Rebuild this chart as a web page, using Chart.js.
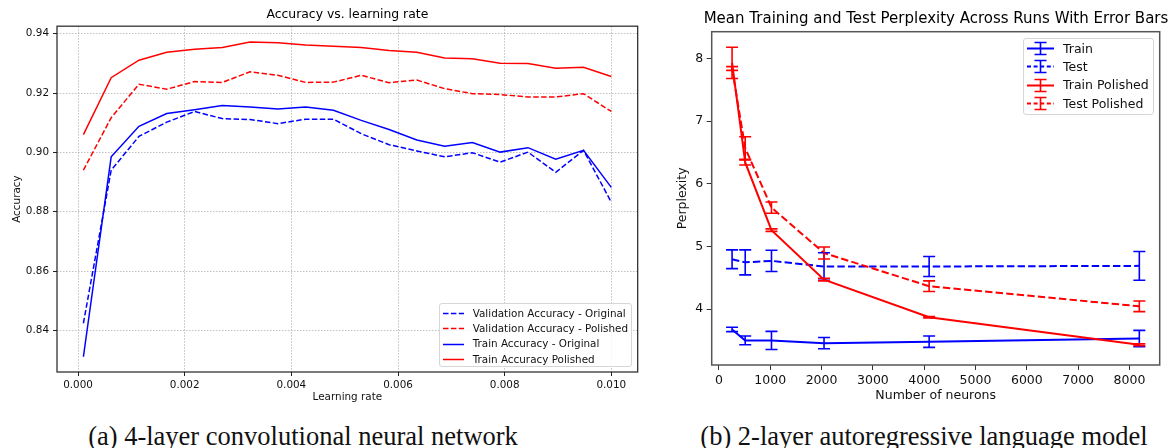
<!DOCTYPE html>
<html>
<head>
<meta charset="utf-8">
<script src="https://cdn.jsdelivr.net/npm/chart.js@4.4.0/dist/chart.umd.min.js"></script>
<style>
body { margin: 0; background: #fff; width: 1170px; height: 448px; position: relative; overflow: hidden; font-family: "DejaVu Sans"; }
canvas.chart { position: absolute; top: 0; }
#accChart { left: 0; width: 650px; height: 410px; }
#pplChart { left: 660px; width: 552px; height: 410px; }
.legend { position: absolute; background: rgba(255,255,255,0.8); border: 1px solid #d6d6d6; border-radius: 3px; box-sizing: border-box; color: #111; }
.legend .row { display: flex; align-items: center; white-space: nowrap; }
.legend canvas { display: block; }
.caption { position: absolute; width: 600px; text-align: center; font-family: "Liberation Serif"; font-size: 26.5px; line-height: 26px; color: #111; white-space: nowrap; }
</style>
</head>
<body>
<canvas class="chart" id="accChart" width="650" height="410"></canvas>
<canvas class="chart" id="pplChart" width="552" height="410"></canvas>
<div class="legend" id="accLegend" style="left:439px; top:303px; width:193px; height:64px; padding-top:1px;"></div>
<div class="legend" id="pplLegend" style="left:1023px; top:38px; width:131px; height:77px; padding-top:0px;"></div>
<div class="caption" style="left:3px; top:423px;">(a) 4-layer convolutional neural network</div>
<div class="caption" style="left:624px; top:423px;">(b) 2-layer autoregressive language model</div>
<script>
// (a) accuracy vs learning rate
const lrValues = [0.0001, 0.000621, 0.001142, 0.001663, 0.002184, 0.002705, 0.003226, 0.003747, 0.004268, 0.004789,
                  0.005311, 0.005832, 0.006353, 0.006874, 0.007395, 0.007916, 0.008437, 0.008958, 0.009479, 0.01];
const valAccOriginal = [0.8424, 0.8940, 0.9054, 0.9102, 0.9138, 0.9114, 0.9111, 0.9097, 0.9112, 0.9112,
                        0.9063, 0.9026, 0.9005, 0.8985, 0.8999, 0.8967, 0.9001, 0.8933, 0.9007, 0.8832];
const valAccPolished = [0.8940, 0.9117, 0.9230, 0.9213, 0.9239, 0.9236, 0.9272, 0.9260, 0.9236, 0.9237,
                        0.9260, 0.9235, 0.9244, 0.9215, 0.9198, 0.9195, 0.9187, 0.9187, 0.9198, 0.9138];
const trainAccOriginal = [0.8311, 0.8985, 0.9088, 0.9131, 0.9144, 0.9158, 0.9153, 0.9146, 0.9153, 0.9142,
                          0.9108, 0.9077, 0.9042, 0.9021, 0.9033, 0.9001, 0.9016, 0.8977, 0.9007, 0.8882];
const trainAccPolished = [0.9060, 0.9252, 0.9311, 0.9338, 0.9348, 0.9354, 0.9372, 0.9370, 0.9362, 0.9358,
                          0.9354, 0.9344, 0.9338, 0.9318, 0.9316, 0.9301, 0.9300, 0.9284, 0.9287, 0.9256];
const lrTicks = [0, 0.002, 0.004, 0.006, 0.008, 0.010];
const accTicks = [0.84, 0.86, 0.88, 0.90, 0.92, 0.94];

// (b) perplexity vs number of neurons
const neurons = [256, 512, 1024, 2048, 4096, 8192];
const trainPpl = [3.675, 3.50, 3.50, 3.457, 3.48, 3.53];
const trainPplErr = [0.035, 0.07, 0.145, 0.09, 0.09, 0.13];
const testPpl = [4.796, 4.746, 4.77, 4.68, 4.68, 4.69];
const testPplErr = [0.15, 0.2, 0.17, 0.22, 0.16, 0.23];
const trainPolPpl = [7.93, 6.34, 5.26, 4.47, 3.87, 3.43];
const trainPolPplErr = [0.25, 0.04, 0.02, 0.02, 0.012, 0.015];
const testPolPpl = [7.84, 6.57, 5.62, 4.895, 4.365, 4.045];
const testPolPplErr = [0.03, 0.18, 0.09, 0.095, 0.085, 0.085];
const neuronTicks = [0, 1000, 2000, 3000, 4000, 5000, 6000, 7000, 8000];
const pplTicks = [4, 5, 6, 7, 8];

const BLUE = '#0000ff';
const RED = '#ff0000';
Chart.defaults.font.family = 'DejaVu Sans';
Chart.defaults.color = '#111';

function points(xs, ys) {
    return xs.map((x, i) => ({x: x, y: ys[i]}));
}

function lineSet(label, xs, ys, color, dash, width, errors) {
    return {
        label: label,
        data: points(xs, ys),
        errors: errors,
        borderColor: color,
        backgroundColor: color,
        borderDash: dash,
        borderWidth: width,
        pointRadius: 0,
        tension: 0,
        fill: false
    };
}

//box round the plot area, like matplotlib spines
const frame = {
    id: 'frame',
    afterDraw(chart, args, opts) {
        const a = chart.chartArea, ctx = chart.ctx;
        ctx.save();
        ctx.strokeStyle = opts.color;
        ctx.lineWidth = opts.width;
        ctx.strokeRect(a.left, a.top, a.right - a.left, a.bottom - a.top);
        ctx.restore();
    }
};

//vertical error bars with caps, placed with the chart's scales
const errorBars = {
    id: 'errorBars',
    afterDatasetsDraw(chart, args, opts) {
        const ctx = chart.ctx, xs = chart.scales.x, ys = chart.scales.y;
        chart.data.datasets.forEach(ds => {
            if (!ds.errors) return;
            ctx.save();
            ctx.strokeStyle = ds.borderColor;
            ctx.lineWidth = opts.width;
            ds.data.forEach((p, j) => {
                const px = xs.getPixelForValue(p.x);
                const top = ys.getPixelForValue(p.y + ds.errors[j]);
                const bot = ys.getPixelForValue(p.y - ds.errors[j]);
                ctx.beginPath();
                ctx.moveTo(px, top); ctx.lineTo(px, bot);
                ctx.moveTo(px - opts.cap, top); ctx.lineTo(px + opts.cap, top);
                ctx.moveTo(px - opts.cap, bot); ctx.lineTo(px + opts.cap, bot);
                ctx.stroke();
            });
            ctx.restore();
        });
    }
};

function fixedTicks(list) {
    return s => { s.ticks = list.map(v => ({value: v})); };
}

//chart (a)
const accChart = new Chart(document.getElementById('accChart'), {
    type: 'line',
    data: {
        datasets: [
            lineSet('Validation Accuracy - Original', lrValues, valAccOriginal, BLUE, [5.5, 2.4], 1.5),
            lineSet('Validation Accuracy - Polished', lrValues, valAccPolished, RED, [5.5, 2.4], 1.5),
            lineSet('Train Accuracy - Original', lrValues, trainAccOriginal, BLUE, [], 1.5),
            lineSet('Train Accuracy Polished', lrValues, trainAccPolished, RED, [], 1.5)
        ]
    },
    options: {
        responsive: false,
        animation: false,
        layout: {padding: {left: 0, right: 12.3, top: 0, bottom: 0}},
        plugins: {
            legend: {display: false},
            tooltip: {enabled: false},
            title: {display: true, fullSize: false, text: 'Accuracy vs. learning rate', color: '#000',
                    font: {size: 12.4, weight: 'normal'}, padding: {top: 7.8, bottom: 3.5}},
            frame: {color: '#222', width: 1.2}
        },
        scales: {
            x: {
                type: 'linear', min: -0.000395, max: 0.010495,
                afterBuildTicks: fixedTicks(lrTicks),
                afterFit: s => { s.height = 38; },
                ticks: {font: {size: 10.4}, padding: 3, maxRotation: 0, autoSkip: false, callback: v => v.toFixed(3)},
                grid: {color: '#b0b0b0', lineWidth: 0.8, tickColor: '#222', tickLength: 4, tickWidth: 1},
                border: {display: false, dash: [1.5, 1.5]},
                title: {display: true, text: 'Learning rate', font: {size: 10.4}, padding: {top: 0, bottom: 6.8}}
            },
            y: {
                type: 'linear', min: 0.82596, max: 0.94256,
                afterBuildTicks: fixedTicks(accTicks),
                afterFit: s => { s.width = 57; },
                ticks: {font: {size: 10.4}, padding: 4, autoSkip: false, callback: v => v.toFixed(2)},
                grid: {color: '#b0b0b0', lineWidth: 0.8, tickColor: '#222', tickLength: 4, tickWidth: 1},
                border: {display: false, dash: [1.5, 1.5]},
                title: {display: true, text: 'Accuracy', font: {size: 10.4}, padding: {top: 10.8, bottom: 0}}
            }
        }
    },
    plugins: [frame]
});

//chart (b): canvas runs past the page edge, an empty right axis keeps the
//full-width title centred over the plot
const pplChart = new Chart(document.getElementById('pplChart'), {
    type: 'line',
    data: {
        datasets: [
            lineSet('Train', neurons, trainPpl, BLUE, [], 2, trainPplErr),
            lineSet('Test', neurons, testPpl, BLUE, [7.4, 3.2], 2, testPplErr),
            lineSet('Train Polished', neurons, trainPolPpl, RED, [], 2, trainPolPplErr),
            lineSet('Test Polished', neurons, testPolPpl, RED, [7.4, 3.2], 2, testPolPplErr)
        ].map((d, i) => Object.assign(d, {order: 4 - i}))
    },
    options: {
        responsive: false,
        animation: false,
        layout: {padding: 0},
        plugins: {
            legend: {display: false},
            tooltip: {enabled: false},
            title: {display: true, fullSize: true, text: 'Mean Training and Test Perplexity Across Runs With Error Bars',
                    color: '#000', font: {size: 15, weight: 'normal'}, padding: {top: 10, bottom: 3.7}},
            frame: {color: '#555', width: 1.5},
            errorBars: {width: 1.6, cap: 6}
        },
        scales: {
            x: {
                type: 'linear', min: -141, max: 8589,
                afterBuildTicks: fixedTicks(neuronTicks),
                afterFit: s => { s.height = 45; },
                ticks: {font: {size: 12.5}, padding: 3, maxRotation: 0, autoSkip: false, callback: v => String(v)},
                grid: {drawOnChartArea: false, tickColor: '#333', tickLength: 5, tickWidth: 1},
                border: {display: false},
                title: {display: true, text: 'Number of neurons', font: {size: 12.5}, padding: {top: 0, bottom: 6.5}}
            },
            y: {
                type: 'linear', min: 3.108, max: 8.427,
                afterBuildTicks: fixedTicks(pplTicks),
                afterFit: s => { s.width = 51.7; },
                ticks: {font: {size: 12.5}, padding: 3.5, autoSkip: false, callback: v => String(v)},
                grid: {drawOnChartArea: false, tickColor: '#333', tickLength: 5, tickWidth: 1},
                border: {display: false},
                title: {display: true, text: 'Perplexity', font: {size: 12.5}, padding: {top: 15.2, bottom: 0}}
            },
            spacer: {
                type: 'linear', position: 'right',
                afterFit: s => { s.width = 52.3; },
                ticks: {display: false},
                grid: {display: false, drawTicks: false},
                border: {display: false}
            }
        }
    },
    plugins: [frame, errorBars]
});

//html legends built from the chart datasets
function buildLegend(chart, id, o) {
    const box = document.getElementById(id);
    chart.data.datasets.forEach(ds => {
        const row = document.createElement('div');
        row.className = 'row';
        row.style.height = o.rowH + 'px';
        row.style.fontSize = o.font + 'px';
        const icon = document.createElement('canvas');
        icon.width = o.iconW;
        icon.height = o.rowH;
        icon.style.marginLeft = o.left + 'px';
        icon.style.marginRight = o.gap + 'px';
        const c = icon.getContext('2d');
        const mid = Math.round(o.rowH / 2) + 0.5;
        c.strokeStyle = ds.borderColor;
        c.lineWidth = ds.borderWidth;
        c.setLineDash(o.dash && ds.borderDash.length ? o.dash : ds.borderDash);
        c.beginPath(); c.moveTo(0, mid); c.lineTo(o.iconW, mid); c.stroke();
        if (ds.errors) {
            const cx = o.iconW / 2, h = 6, cap = 6;
            c.setLineDash([]);
            c.lineWidth = 1.6;
            c.beginPath();
            c.moveTo(cx, mid - h); c.lineTo(cx, mid + h);
            c.moveTo(cx - cap, mid - h); c.lineTo(cx + cap, mid - h);
            c.moveTo(cx - cap, mid + h); c.lineTo(cx + cap, mid + h);
            c.stroke();
        }
        const label = document.createElement('span');
        label.textContent = ds.label;
        row.appendChild(icon);
        row.appendChild(label);
        box.appendChild(row);
    });
}

buildLegend(accChart, 'accLegend', {rowH: 15.3, font: 10.4, iconW: 21, left: 3.3, gap: 8.4});
buildLegend(pplChart, 'pplLegend', {rowH: 18.3, font: 12.5, iconW: 27, left: 3, gap: 9, dash: [4, 2.6]});
</script>
</body>
</html>
